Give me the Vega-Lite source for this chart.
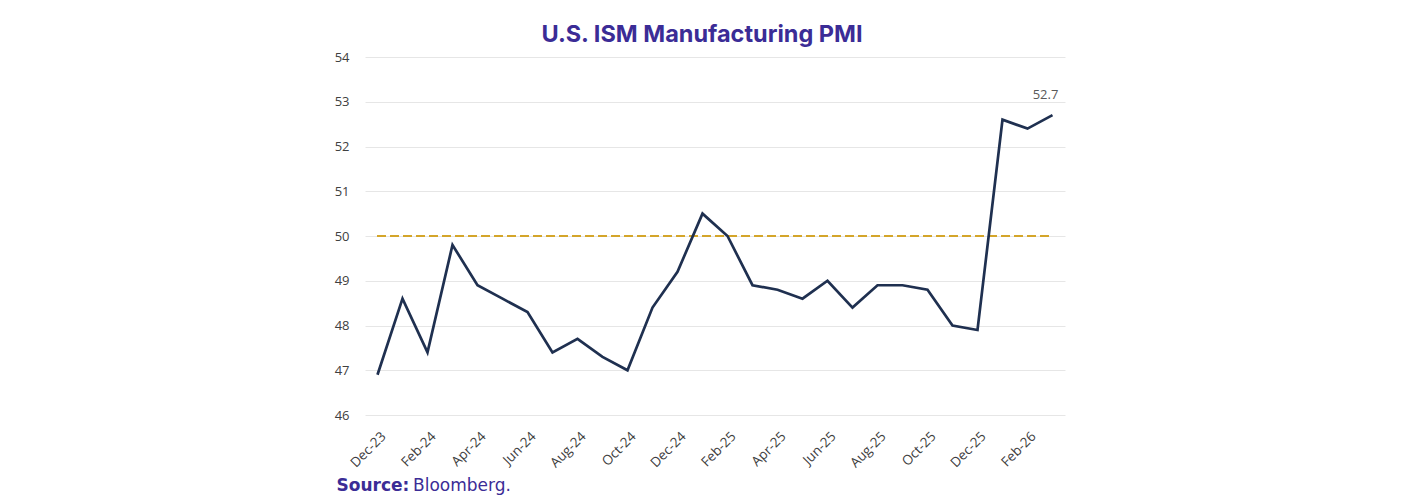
{
  "$schema": "https://vega.github.io/schema/vega-lite/v6.json",
  "autosize": {"type": "none"},
  "width": 700,
  "height": 358,
  "padding": {"left": 365, "top": 57, "right": 343, "bottom": 81},
  "background": "white",
  "title": {
    "text": "U.S. ISM Manufacturing PMI",
    "font": "Inter",
    "fontSize": 23.5,
    "fontWeight": 700,
    "color": "#3b2c96",
    "anchor": "middle",
    "frame": "group",
    "baseline": "alphabetic",
    "offset": 14,
    "dx": -13,
    "dy": 28
  },
  "config": {
    "view": {"stroke": null},
    "font": "Open Sans"
  },
  "data": {
    "values": [
      {"month": "Dec-23", "pmi": 46.9},
      {"month": "Jan-24", "pmi": 48.6},
      {"month": "Feb-24", "pmi": 47.4},
      {"month": "Mar-24", "pmi": 49.8},
      {"month": "Apr-24", "pmi": 48.9},
      {"month": "May-24", "pmi": 48.6},
      {"month": "Jun-24", "pmi": 48.3},
      {"month": "Jul-24", "pmi": 47.4},
      {"month": "Aug-24", "pmi": 47.7},
      {"month": "Sep-24", "pmi": 47.3},
      {"month": "Oct-24", "pmi": 47.0},
      {"month": "Nov-24", "pmi": 48.4},
      {"month": "Dec-24", "pmi": 49.2},
      {"month": "Jan-25", "pmi": 50.5},
      {"month": "Feb-25", "pmi": 50.0},
      {"month": "Mar-25", "pmi": 48.9},
      {"month": "Apr-25", "pmi": 48.8},
      {"month": "May-25", "pmi": 48.6},
      {"month": "Jun-25", "pmi": 49.0},
      {"month": "Jul-25", "pmi": 48.4},
      {"month": "Aug-25", "pmi": 48.9},
      {"month": "Sep-25", "pmi": 48.9},
      {"month": "Oct-25", "pmi": 48.8},
      {"month": "Nov-25", "pmi": 48.0},
      {"month": "Dec-25", "pmi": 47.9},
      {"month": "Jan-26", "pmi": 52.6},
      {"month": "Feb-26", "pmi": 52.4},
      {"month": "Mar-26", "pmi": 52.7}
    ]
  },
  "encoding": {
    "x": {
      "field": "month",
      "type": "ordinal",
      "sort": null,
      "scale": {
        "type": "point",
        "padding": 0.5,
        "domain": ["Dec-23", "Jan-24", "Feb-24", "Mar-24", "Apr-24", "May-24", "Jun-24", "Jul-24", "Aug-24", "Sep-24", "Oct-24", "Nov-24", "Dec-24", "Jan-25", "Feb-25", "Mar-25", "Apr-25", "May-25", "Jun-25", "Jul-25", "Aug-25", "Sep-25", "Oct-25", "Nov-25", "Dec-25", "Jan-26", "Feb-26", "Mar-26"]
      },
      "axis": {
        "title": null,
        "values": ["Dec-23", "Feb-24", "Apr-24", "Jun-24", "Aug-24", "Oct-24", "Dec-24", "Feb-25", "Apr-25", "Jun-25", "Aug-25", "Oct-25", "Dec-25", "Feb-26"],
        "labelAngle": -45,
        "labelFont": "Open Sans",
        "labelFontSize": 13.5,
        "labelColor": "#404040",
        "labelPadding": 14,
        "labelOffset": 1,
        "ticks": false,
        "domain": false,
        "grid": false
      }
    },
    "y": {
      "field": "pmi",
      "type": "quantitative",
      "scale": {"domain": [46, 54], "nice": false, "zero": false},
      "axis": {
        "title": null,
        "values": [46, 47, 48, 49, 50, 51, 52, 53, 54],
        "labelFont": "Open Sans",
        "labelFontSize": 13,
        "labelColor": "#404040",
        "labelPadding": 16,
        "ticks": false,
        "domain": false,
        "grid": true,
        "gridColor": "#e6e6e6",
        "gridWidth": 1
      }
    }
  },
  "layer": [
    {
      "mark": {"type": "rule", "color": "#d4a52a", "strokeWidth": 2, "strokeDash": [8, 5]},
      "encoding": {
        "x": {"datum": "Dec-23"},
        "x2": {"datum": "Mar-26"},
        "y": {"datum": 50}
      }
    },
    {
      "mark": {"type": "line", "color": "#1f3050", "strokeWidth": 2.7, "strokeJoin": "miter"}
    },
    {
      "transform": [{"filter": "datum.month === 'Mar-26'"}],
      "mark": {"type": "text", "font": "Open Sans", "fontSize": 13, "color": "#595959", "dx": -7, "dy": -20, "align": "center", "baseline": "middle"},
      "encoding": {"text": {"field": "pmi", "type": "quantitative", "format": ".1f"}}
    },
    {
      "transform": [{"filter": "datum.month === 'Dec-23'"}],
      "mark": {"type": "text", "font": "DejaVu Sans", "fontSize": 17, "fontWeight": 700, "color": "#3b2c96", "align": "left", "baseline": "alphabetic", "dx": -41, "dy": 76},
      "encoding": {"y": {"datum": 46}, "text": {"value": "Source:"}}
    },
    {
      "transform": [{"filter": "datum.month === 'Dec-23'"}],
      "mark": {"type": "text", "font": "DejaVu Sans", "fontSize": 17, "fontWeight": 400, "color": "#3b2c96", "align": "left", "baseline": "alphabetic", "dx": 35.5, "dy": 76},
      "encoding": {"y": {"datum": 46}, "text": {"value": "Bloomberg."}}
    }
  ]
}
